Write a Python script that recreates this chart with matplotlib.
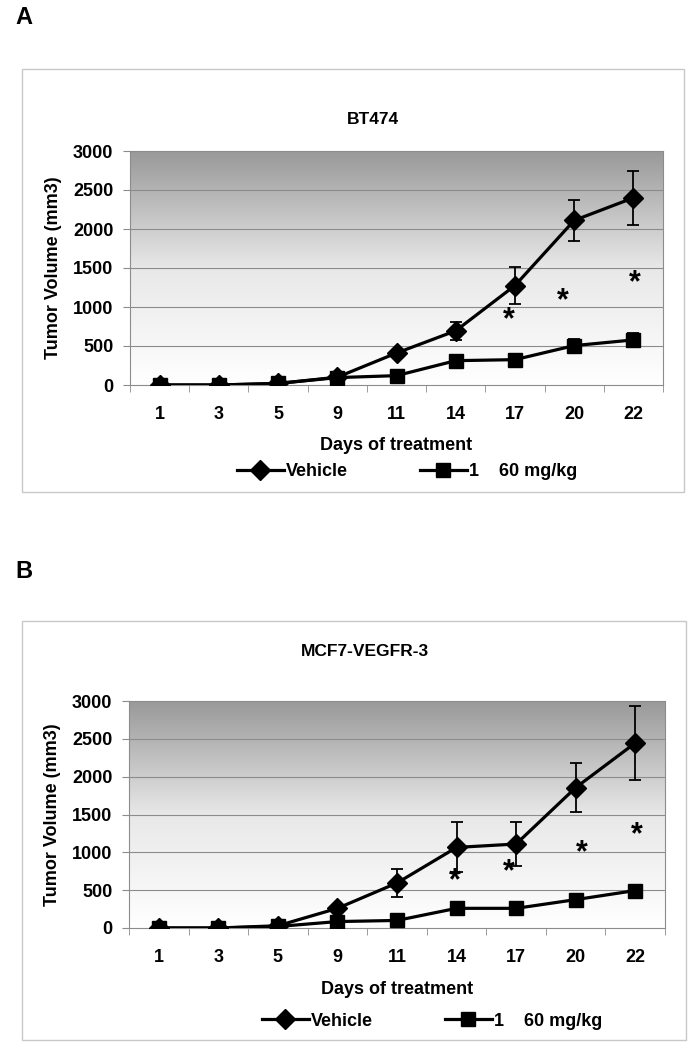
import numpy as np
import matplotlib
matplotlib.use("Agg")
import matplotlib.pyplot as plt
from matplotlib.colors import LinearSegmentedColormap
from matplotlib.patches import Rectangle
from matplotlib.lines import Line2D

plt.rcParams['font.family'] = ['Liberation Sans', 'DejaVu Sans']
plt.rcParams['font.weight'] = 'bold'

# data
days = ['1', '3', '5', '9', '11', '14', '17', '20', '22']

# panel A - BT474
a_vehicle = [0, 0, 20, 100, 410, 695, 1275, 2110, 2400]
a_vehicle_err = [10, 10, 15, 25, 45, 115, 235, 260, 345]
a_treated = [0, 0, 20, 95, 120, 312, 325, 505, 578]
a_treated_err = [10, 10, 10, 15, 20, 35, 30, 90, 85]
a_star_x = [5.0, 5.9, 6.8, 8.03]
a_star_y = [570, 830, 1075, 1300]

# panel B - MCF7-VEGFR-3
b_vehicle = [0, 0, 30, 260, 595, 1065, 1110, 1855, 2445]
b_vehicle_err = [10, 10, 15, 30, 180, 330, 290, 320, 490]
b_treated = [0, 0, 20, 85, 100, 260, 260, 375, 495]
b_treated_err = [10, 10, 10, 15, 15, 20, 20, 25, 30]
b_star_x = [4.97, 5.87, 7.1, 8.02]
b_star_y = [620, 740, 990, 1225]

grad = LinearSegmentedColormap.from_list('g', ['#ffffff', '#e8e8e8', '#999999'])

fig = plt.figure(figsize=(6.91, 10.5), dpi=100)


def panel(rect, box, title, title_xy, letter_xy, letter, vehicle, verr, treated, terr,
          sx, sy, xlab_y, leg_xy):
    # outer light frame
    fig.patches.append(Rectangle((box[0], box[1]), box[2], box[3], transform=fig.transFigure,
                                 fill=False, edgecolor='#c8c8c8', lw=1.0))
    fig.text(letter_xy[0], letter_xy[1], letter, fontsize=17, fontweight='bold',
             ha='left', va='center')
    fig.text(title_xy[0], title_xy[1], title, fontsize=12.5, fontweight='bold',
             ha='center', va='center')

    ax = fig.add_axes(rect)
    x = np.arange(len(days))
    ax.set_xlim(-0.5, len(days) - 0.5)
    ax.set_ylim(0, 3000)

    # gradient background
    ax.imshow(np.linspace(0, 1, 256).reshape(-1, 1), cmap=grad, aspect='auto',
              extent=(-0.5, len(days) - 0.5, 0, 3000), origin='lower', zorder=0)
    for yv in range(500, 3000, 500):
        ax.axhline(yv, color='#8c8c8c', lw=0.8, zorder=1)

    ax.errorbar(x, vehicle, yerr=verr, color='black', lw=2.3, marker='D', ms=10,
                capsize=4, elinewidth=1.3, capthick=1.3, zorder=4)
    ax.errorbar(x, treated, yerr=terr, color='black', lw=2.3, marker='s', ms=9.5,
                capsize=4, elinewidth=1.3, capthick=1.3, zorder=3)

    for xs, ys in zip(sx, sy):
        ax.text(xs, ys, '*', fontsize=22, fontweight='bold', ha='center', va='center',
                zorder=5)

    ax.set_xticks(x)
    ax.set_xticklabels(days)
    ax.set_xticks(np.arange(-0.5, len(days), 1), minor=True)
    ax.tick_params(axis='x', which='major', length=0, pad=15, labelsize=13)
    ax.tick_params(axis='x', which='minor', length=5, color='#8c8c8c', direction='out')
    ax.set_yticks(range(0, 3001, 500))
    ax.tick_params(axis='y', length=5, color='#8c8c8c', pad=7, labelsize=13)
    for sp in ax.spines.values():
        sp.set_color('#8c8c8c')
    ax.set_ylabel('Tumor Volume (mm3)', fontsize=13, fontweight='bold', labelpad=8)

    fig.text(rect[0] + rect[2] / 2, xlab_y, 'Days of treatment', fontsize=13,
             fontweight='bold', ha='center', va='center')
    handles = [Line2D([], [], color='black', lw=2.3, marker='D', ms=10),
               Line2D([], [], color='black', lw=2.3, marker='s', ms=9.5)]
    fig.legend(handles, ['Vehicle', '1    60 mg/kg'], loc='center', ncol=2,
               bbox_to_anchor=leg_xy, frameon=False, handlelength=2.6,
               handletextpad=0.1, columnspacing=4.0, prop={'weight': 'bold', 'size': 13})
    return ax


H = 1050.0
W = 691.0
panel([130 / W, 1 - 385 / H, 533 / W, 234 / H], (22 / W, 1 - 492 / H, 662 / W, 423 / H),
      'BT474', (373 / W, 1 - 120 / H), (15 / W, 1 - 17 / H), 'A',
      a_vehicle, a_vehicle_err, a_treated, a_treated_err, a_star_x, a_star_y,
      1 - 445 / H, (407 / W, 1 - 472 / H))
panel([129 / W, 1 - 928 / H, 536 / W, 227 / H], (22 / W, 1 - 1040 / H, 664 / W, 419 / H),
      'MCF7-VEGFR-3', (365 / W, 1 - 651 / H), (15 / W, 1 - 572 / H), 'B',
      b_vehicle, b_vehicle_err, b_treated, b_treated_err, b_star_x, b_star_y,
      1 - 989 / H, (432 / W, 1 - 1021 / H))

fig.savefig('out.png', dpi=100)
